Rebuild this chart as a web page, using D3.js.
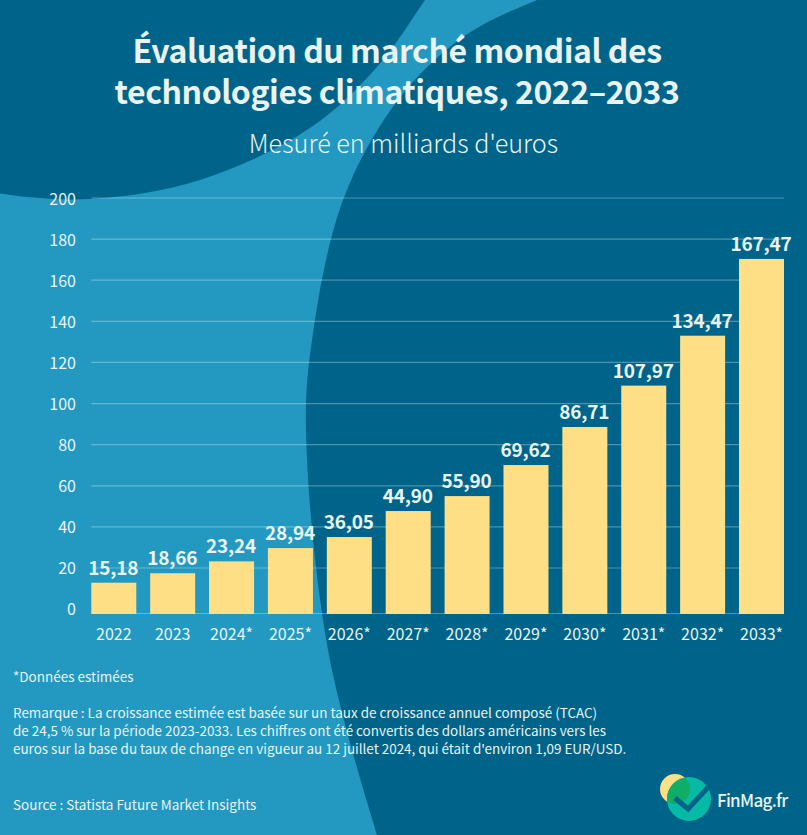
<!DOCTYPE html>
<html>
	<head>
		<meta http-equiv="Content-Type" content="text/html;charset=utf-8"/>
		<title>Technologies climatiques</title>
		<script src="https://d3js.org/d3.v7.min.js"></script>
		<style type="text/css">

			html, body {
				margin: 0;
				padding: 0;
				background: #2399c1;
			}

			svg {
				display: block;
			}

			text {
				font-family: "Noto Sans CJK SC", "Noto Sans", sans-serif;
				fill: #e9f3ef;
			}

			.bar {
				fill: #ffdf85;
			}

			.grid line {
				stroke: #ffffff;
				stroke-opacity: 0.3;
				stroke-width: 1.2;
			}

		</style>
	</head>
	<body>
		<script type="text/javascript">

			var years = ["2022", "2023", "2024*", "2025*", "2026*", "2027*", "2028*", "2029*", "2030*", "2031*", "2032*", "2033*"];
			var barValues = [15.05, 19.6, 25.3, 31.7, 37.0, 49.5, 56.7, 71.6, 89.9, 109.8, 133.8, 170.7];
			var valueLabels = ["15,18", "18,66", "23,24", "28,94", "36,05", "44,90", "55,90", "69,62", "86,71", "107,97", "134,47", "167,47"];
			var yTicks = [0, 20, 40, 60, 80, 100, 120, 140, 160, 180, 200];

			var titleLines = ["Évaluation du marché mondial des", "technologies climatiques, 2022–2033"];
			var subtitle = "Mesuré en milliards d'euros";
			var noteLines = [
				"Remarque : La croissance estimée est basée sur un taux de croissance annuel composé (TCAC)",
				"de 24,5 % sur la période 2023-2033. Les chiffres ont été convertis des dollars américains vers les",
				"euros sur la base du taux de change en vigueur au 12 juillet 2024, qui était d'environ 1,09 EUR/USD."
			];

			var w = 807,
				h = 835,
				dark = "#00648a";

			var svg = d3.select("body").append("svg")
						.attr("width", w)
						.attr("height", h);

			//Background, two dark blobs on the light blue page
			var blob = d3.line().curve(d3.curveCatmullRom.alpha(0.5));

			svg.append("path")
				.attr("fill", dark)
				.attr("d", blob([[-40, 184], [0, 193.5], [90, 199], [200, 180], [310, 128], [377, 67], [425, 0], [445, -30]]) + "L-40,-30Z");

			svg.append("path")
				.attr("fill", dark)
				.attr("d", blob([[600, -22], [537, 0], [463, 37], [398, 100], [343, 200], [312, 340], [306, 430], [328, 650], [377, 835], [382, 850]]) + "L830,850L830,-22Z");

			//Scales, the bars and the drawn grid do not share the exact same spacing in the original
			var xScale = d3.scaleBand()
							.domain(years)
							.range([91.3, 784])
							.paddingInner(0.236)
							.paddingOuter(0);

			var yScale = d3.scaleLinear()
							.domain([0, 200])
							.range([614, 198]);

			var gridScale = d3.scaleLinear()
							.domain([0, 20, 200])
							.range([613.5, 568, 198]);

			var tickScale = d3.scaleLinear()
							.domain([0, 200])
							.range([609, 199]);

			//Grid lines
			svg.append("g")
				.attr("class", "grid")
				.selectAll("line")
				.data(yTicks)
				.enter()
				.append("line")
				.attr("x1", 91.3)
				.attr("x2", 784)
				.attr("y1", function(d) { return gridScale(d); })
				.attr("y2", function(d) { return gridScale(d); });

			//Y tick labels
			var yAxis = d3.axisLeft(tickScale).tickValues(yTicks).tickSize(0).tickPadding(0);

			svg.append("g")
				.attr("transform", "translate(76,0)")
				.call(yAxis)
				.call(function(g) { g.select(".domain").remove(); })
				.selectAll("text")
				.attr("font-size", 16)
				.style("font-family", "\"Noto Sans CJK SC\", \"Noto Sans\", sans-serif");

			//Bars
			svg.selectAll("rect.bar")
				.data(barValues)
				.enter()
				.append("rect")
				.attr("class", "bar")
				.attr("x", function(d, i) { return xScale(years[i]); })
				.attr("width", xScale.bandwidth())
				.attr("y", function(d) { return yScale(d); })
				.attr("height", function(d) { return yScale(0) - yScale(d); });

			//Value labels
			svg.selectAll("text.value")
				.data(valueLabels)
				.enter()
				.append("text")
				.attr("class", "value")
				.attr("text-anchor", "middle")
				.attr("font-size", 19)
				.attr("letter-spacing", -0.2)
				.attr("font-weight", 700)
				.attr("x", function(d, i) { return xScale(years[i]) + xScale.bandwidth() / 2 - 0.5; })
				.attr("y", function(d, i) { return yScale(barValues[i]) - 8; })
				.text(function(d) { return d; });

			//X labels
			var xAxis = d3.axisBottom(xScale).tickSize(0).tickPadding(0);

			svg.append("g")
				.attr("transform", "translate(0,629)")
				.call(xAxis)
				.call(function(g) { g.select(".domain").remove(); })
				.selectAll("text")
				.attr("font-size", 16)
				.style("font-family", "\"Noto Sans CJK SC\", \"Noto Sans\", sans-serif");

			//Title block
			svg.selectAll("text.title")
				.data(titleLines)
				.enter()
				.append("text")
				.attr("class", "title")
				.attr("text-anchor", "middle")
				.attr("font-size", 32)
				.attr("letter-spacing", -0.45)
				.attr("font-weight", 700)
				.attr("x", 397)
				.attr("y", function(d, i) { return 63 + i * 41; })
				.text(function(d) { return d; });

			svg.append("text")
				.attr("text-anchor", "middle")
				.attr("font-size", 25.2)
				.attr("font-weight", 300)
				.attr("x", 403.5)
				.attr("y", 153)
				.text(subtitle);

			//Footer
			svg.append("text")
				.attr("font-size", 13.5)
				.attr("x", 13)
				.attr("y", 682)
				.text("*Données estimées");

			svg.selectAll("text.note")
				.data(noteLines)
				.enter()
				.append("text")
				.attr("class", "note")
				.attr("font-size", 13.45)
				.attr("x", 13)
				.attr("y", function(d, i) { return 718 + i * 18; })
				.text(function(d) { return d; });

			svg.append("text")
				.attr("font-size", 13.5)
				.attr("x", 13)
				.attr("y", 810)
				.text("Source : Statista Future Market Insights");

			//Logo
			var logo = svg.append("g");

			logo.append("circle").attr("cx", 675).attr("cy", 789).attr("r", 15).attr("fill", "#ffdf85");
			logo.append("circle").attr("cx", 689).attr("cy", 799).attr("r", 22).attr("fill", "#05bba6");

			logo.append("clipPath")
				.attr("id", "logo-clip")
				.append("circle").attr("cx", 675).attr("cy", 789).attr("r", 15);

			logo.append("circle")
				.attr("cx", 689).attr("cy", 799).attr("r", 22)
				.attr("fill", "#0fad66")
				.attr("clip-path", "url(#logo-clip)");

			logo.append("path")
				.attr("d", "M675,798L688,809L712,783")
				.attr("fill", "none")
				.attr("stroke", dark)
				.attr("stroke-width", 5);

			svg.append("text")
				.attr("font-size", 17)
				.attr("letter-spacing", -0.7)
				.attr("font-weight", 500)
				.attr("x", 717)
				.attr("y", 807)
				.text("FinMag.fr");

		</script>
	</body>
</html>
